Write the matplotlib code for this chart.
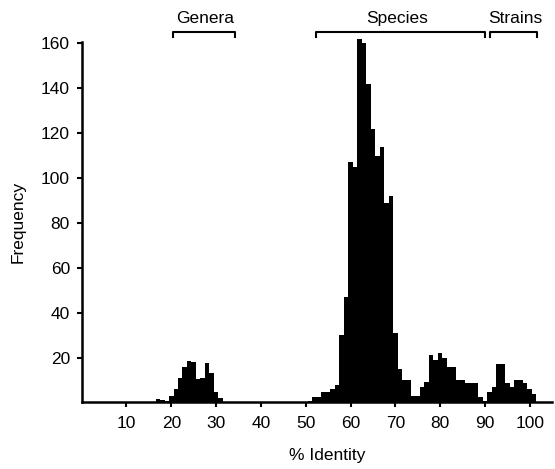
import matplotlib
matplotlib.use("Agg")
import matplotlib.pyplot as plt

plt.rcParams['font.family'] = ['Liberation Sans', 'DejaVu Sans']

# % identity (bin centre) and frequency
genera_x = [17, 18, 19, 20, 21, 22, 23, 24, 25, 26, 27, 28, 29, 30, 31]
genera_y = [1.5, 1, 0.5, 3, 6, 11, 16, 18.5, 18, 10.5, 11, 17.5, 13, 4.5, 2]

species_x = list(range(51, 90))
species_y = [0.5, 2.5, 2.5, 4.5, 4.5, 6, 8, 30, 47, 107, 105, 162, 160, 142,
             122, 110, 114, 89, 92, 31, 15, 10, 10, 2.7, 2.7, 7, 9, 21, 19,
             22, 20, 16, 16, 10, 10, 8.5, 8.7, 8.7, 2.6]

strains_x = list(range(90, 102))
strains_y = [0.5, 4.5, 7, 17, 17, 8.5, 7, 10, 10, 8.5, 6, 3.7]

groups = ['Genera', 'Species', 'Strains']
group_spans = [(20.4, 34.3), (52.3, 90.1), (91.2, 101.7)]
label_x = [27.6, 70.4, 96.8]

xticks = [10, 20, 30, 40, 50, 60, 70, 80, 90, 100]
yticks = [20, 40, 60, 80, 100, 120, 140, 160]

fs = 12.5

fig = plt.figure(figsize=(5.55, 4.69), dpi=100)
ax = fig.add_axes([0.1472, 0.1418, 0.8476, 0.8377])

x = genera_x + species_x + strains_x
y = genera_y + species_y + strains_y
ax.bar(x, y, width=1.0, color='black', linewidth=0, clip_on=False)

ax.set_xlim(0, 105)
ax.set_ylim(0, 175)
ax.set_xticks(xticks)
ax.set_yticks(yticks)
ax.tick_params(direction='out', length=3.5, width=1.5, labelsize=fs)
ax.tick_params(axis='x', pad=6)
ax.tick_params(axis='y', pad=5)

for s in ['top', 'right']:
    ax.spines[s].set_visible(False)
ax.spines['left'].set_linewidth(1.8)
ax.spines['bottom'].set_linewidth(1.8)
ax.spines['left'].set_bounds(0, 160.6)

# brackets over the groups
for name, (a, b), lx in zip(groups, group_spans, label_x):
    ax.plot([a, a, b, b], [162.8, 165, 165, 162.8], color='black',
            linewidth=1.5, clip_on=False)
    ax.text(lx, 171.2, name, ha='center', va='center', fontsize=fs)

fig.text(18 / 555, 1 - 222 / 469, 'Frequency', rotation=90,
         ha='center', va='center', fontsize=fs)
fig.text(327 / 555, 1 - 455 / 469, '% Identity',
         ha='center', va='center', fontsize=fs)

fig.savefig('out.png', dpi=100)
